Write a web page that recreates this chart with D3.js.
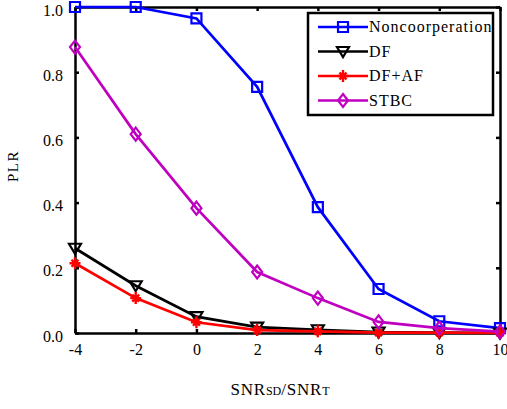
<!DOCTYPE html>
<html>
<head>
<meta charset="utf-8">
<script src="https://cdn.jsdelivr.net/npm/d3@7"></script>
<style>
  body { margin: 0; background: #fff; }
</style>
</head>
<body>
<svg id="chart" width="507" height="409"></svg>
<script>
// data
let snrValues = [-4, -2, 0, 2, 4, 6, 8, 10];
let nonCoop = [1.0, 1.0, 0.965, 0.755, 0.386, 0.135, 0.036, 0.015];
let dfValues = [0.26, 0.145, 0.05, 0.018, 0.01, 0.003, 0.001, 0.0];
let dfAfValues = [0.214, 0.107, 0.033, 0.009, 0.005, 0.001, 0.001, 0.0];
let stbcValues = [0.877, 0.61, 0.383, 0.187, 0.107, 0.034, 0.015, 0.004];
let xTicks = [-4, -2, 0, 2, 4, 6, 8, 10];
let yTicks = [0.0, 0.2, 0.4, 0.6, 0.8, 1.0];

let seriesList = [
    {name: "Noncoorperation", values: nonCoop, color: "#0000ff", marker: "square"},
    {name: "DF", values: dfValues, color: "#000000", marker: "triangle"},
    {name: "DF+AF", values: dfAfValues, color: "#ff0000", marker: "star"},
    {name: "STBC", values: stbcValues, color: "#c000c0", marker: "diamond"}
];

let serifFont = "Liberation Serif";
let svg = d3.select('#chart');
let plot = {l: 75, r: 500, t: 7, b: 333};

let x = d3.scaleLinear().domain([-4, 10]).range([plot.l, plot.r]);
let y = d3.scaleLinear().domain([0, 1]).range([plot.b, plot.t]);

// axes (ticks point inward)
let tickLen = 4;
svg.append("g").attr("transform", "translate(0," + plot.b + ")")
    .call(d3.axisBottom(x).tickValues(xTicks).tickSizeInner(-tickLen).tickSizeOuter(0).tickPadding(11).tickFormat(d => String(d)));
svg.append("g").attr("transform", "translate(0," + plot.t + ")")
    .call(d3.axisTop(x).tickValues(xTicks).tickSizeInner(-tickLen).tickSizeOuter(0).tickFormat(""));
let yAxisG = svg.append("g").attr("transform", "translate(" + plot.l + ",0)")
    .call(d3.axisLeft(y).tickValues(yTicks).tickSizeInner(-tickLen).tickSizeOuter(0).tickPadding(12).tickFormat(d => d.toFixed(1)));
svg.append("g").attr("transform", "translate(" + plot.r + ",0)")
    .call(d3.axisRight(y).tickValues(yTicks).tickSizeInner(-tickLen).tickSizeOuter(0).tickFormat(""));

svg.selectAll(".domain").attr("stroke", "#000").attr("stroke-width", 2.5);
svg.selectAll(".tick line").attr("stroke", "#000").attr("stroke-width", 2.5);
svg.selectAll(".tick text")
    .style("font-family", serifFont)
    .style("font-size", "16px")
    .attr("fill", "#000");
yAxisG.selectAll(".tick text").attr("dy", "0.5em");

// marker shapes
function markerPath(type) {
    if (type == "square") return "M-5,-5H5V5H-5Z";
    if (type == "triangle") return "M-6,-4.5L6,-4.5L0,5.5Z";
    if (type == "diamond") return "M0,-6.5L5,0L0,6.5L-5,0Z";
    return "M-5.5,0H5.5M0,-6V6M-3.5,-3.5L3.5,3.5M-3.5,3.5L3.5,-3.5";
}

let line = d3.line().x(d => x(d[0])).y(d => y(d[1]));

seriesList.forEach(function(s) {
    let pts = snrValues.map((v, i) => [v, s.values[i]]);
    let g = svg.append("g");
    g.append("path")
        .attr("d", line(pts))
        .attr("fill", "none")
        .attr("stroke", s.color)
        .attr("stroke-width", 2.7);
    g.selectAll("path.mk").data(pts).enter()
        .append("path")
        .attr("class", "mk")
        .attr("transform", d => "translate(" + x(d[0]) + "," + y(d[1]) + ")")
        .attr("d", markerPath(s.marker))
        .attr("fill", "none")
        .attr("stroke", s.color)
        .attr("stroke-width", s.marker == "star" ? 2.4 : 2.2);
});

// legend
let legend = svg.append("g");
legend.append("rect")
    .attr("x", 308).attr("y", 13)
    .attr("width", 185).attr("height", 102)
    .attr("fill", "#fff")
    .attr("stroke", "#000")
    .attr("stroke-width", 2.5);

seriesList.forEach(function(s, i) {
    let ly = 27 + i * 24.5;
    legend.append("line")
        .attr("x1", 318).attr("x2", 368)
        .attr("y1", ly).attr("y2", ly)
        .attr("stroke", s.color).attr("stroke-width", 2.7);
    legend.append("path")
        .attr("transform", "translate(343," + ly + ")")
        .attr("d", markerPath(s.marker))
        .attr("fill", "none")
        .attr("stroke", s.color)
        .attr("stroke-width", s.marker == "star" ? 2.4 : 2.2);
    legend.append("text")
        .attr("x", 369).attr("y", ly)
        .attr("dy", "0.33em")
        .style("font-family", serifFont)
        .style("font-size", "16px")
        .attr("letter-spacing", "1px")
        .text(s.name);
});

// axis titles
svg.append("text")
    .attr("transform", "translate(18,166) rotate(-90)")
    .attr("text-anchor", "middle")
    .style("font-family", serifFont)
    .style("font-size", "15px")
    .attr("letter-spacing", "1.5px")
    .text("PLR");

let xTitle = svg.append("text")
    .attr("x", 280).attr("y", 395)
    .attr("text-anchor", "middle")
    .style("font-family", serifFont)
    .style("font-size", "17px")
    .attr("letter-spacing", "0.8px");
xTitle.append("tspan").text("SNR");
xTitle.append("tspan").style("font-size", "12px").attr("letter-spacing", "0px").text("SD");
xTitle.append("tspan").text("/SNR");
xTitle.append("tspan").style("font-size", "12px").attr("letter-spacing", "0px").text("T");
</script>
</body>
</html>
